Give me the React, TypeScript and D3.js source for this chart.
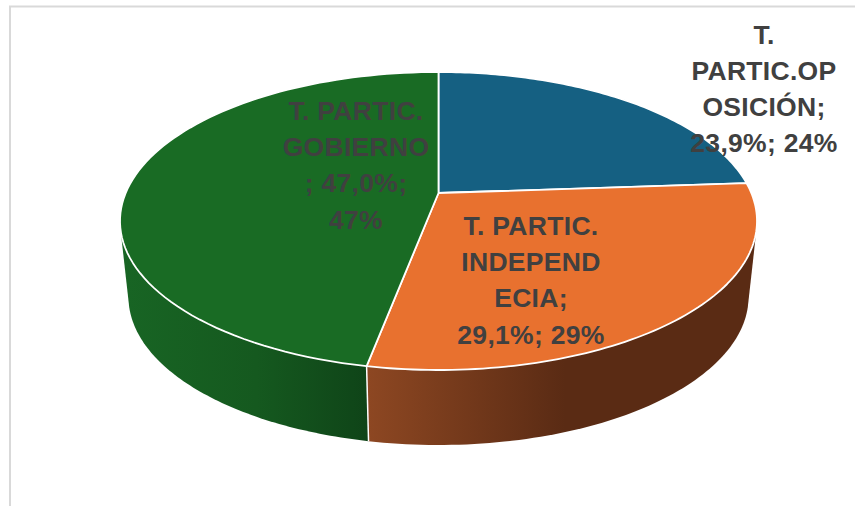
import React from "react";
import * as d3 from "d3";

const categories = ["T. PARTIC.OPOSICIÓN", "T. PARTIC. INDEPENDECIA", "T. PARTIC. GOBIERNO"];
const values = [23.9, 29.1, 47.0];
const topColors = ["#156082", "#E8712F", "#196B24"];
const labelLines = [
  ["T.", "PARTIC.OP", "OSICIÓN;", "23,9%; 24%"],
  ["T. PARTIC.", "INDEPEND", "ECIA;", "29,1%; 29%"],
  ["T. PARTIC.", "GOBIERNO", "; 47,0%;", "47%"],
];
const labelAnchors: [number, number][] = [[764, 43.5], [531, 235], [356, 120]];

const W = 855, H = 506;
const top = { cx: 438.5, cy: 221, rx: 318.5, ry: 149 };
const bottom = { cx: 438.5, cy: 297, rx: 310, ry: 148 };
const A = -28 / 149; // perspective shift of the pie centre

type Disc = typeof top;
function project(d: Disc, theta: number, r = 1): [number, number] {
  const u = r * Math.sin(theta), v = -r * Math.cos(theta);
  const den = 1 + A * v;
  return [
    d.cx + d.rx * (u * Math.sqrt(1 - A * A)) / den,
    d.cy + d.ry * (v + A) / den,
  ];
}
function arcPts(d: Disc, a0: number, a1: number, n = 90): [number, number][] {
  return d3.range(n + 1).map((i) => project(d, a0 + ((a1 - a0) * i) / n));
}

const arcs = d3.pie<number>().sort(null)(values);
const line = d3.line();

export default function App() {
  const sides = [
    { arc: arcs[1], fill: "url(#sideOrange)" },
    { arc: arcs[2], fill: "url(#sideGreen)" },
  ];
  return (
    <svg width={W} height={H} viewBox={`0 0 ${W} ${H}`}
      style={{ position: "absolute", left: 0, top: 0, background: "#fff" }}>
      <defs>
        <linearGradient id="sideGreen" gradientUnits="userSpaceOnUse" x1={120} x2={368} y1={0} y2={0}>
          <stop offset="0" stopColor="#186524" />
          <stop offset="0.55" stopColor="#15591f" />
          <stop offset="1" stopColor="#0f4418" />
        </linearGradient>
        <linearGradient id="sideOrange" gradientUnits="userSpaceOnUse" x1={368} x2={565} y1={0} y2={0}>
          <stop offset="0" stopColor="#8d4722" />
          <stop offset="1" stopColor="#5a2b14" />
        </linearGradient>
      </defs>
      <path d={`M10 506V6.5H855`} fill="none" stroke="#d9d9d9" strokeWidth={2} />
      {sides.map(({ arc, fill }, i) => {
        const a1 = Math.min(arc.endAngle, Math.PI * 1.5);
        const hull = d3.polygonHull([
          ...arcPts(top, arc.startAngle, a1),
          ...arcPts(bottom, arc.startAngle, a1),
        ])!;
        return <path key={i} d={line(hull)! + "Z"} fill={fill} />;
      })}
      <path
        d={line([project(top, arcs[2].startAngle), project(bottom, arcs[2].startAngle)])!}
        stroke="#fff" strokeWidth={1.5} fill="none" />
      {arcs.map((arc, i) => (
        <path key={categories[i]}
          d={line([
            project(top, 0, 0),
            ...arcPts(top, arc.startAngle, arc.endAngle),
          ])! + "Z"}
          fill={topColors[i]} stroke="#fff" strokeWidth={1.8} strokeLinejoin="round" />
      ))}
      {labelLines.map((lines, i) => (
        <text key={i} x={labelAnchors[i][0]} y={labelAnchors[i][1]} textAnchor="middle"
          fontFamily="'Liberation Sans', sans-serif" fontWeight={700} fontSize={26.5}
          letterSpacing={0.3} fill="#404040">
          {lines.map((l, j) => (
            <tspan key={j} x={labelAnchors[i][0]} dy={j === 0 ? 0 : 36.2}>{l}</tspan>
          ))}
        </text>
      ))}
    </svg>
  );
}
